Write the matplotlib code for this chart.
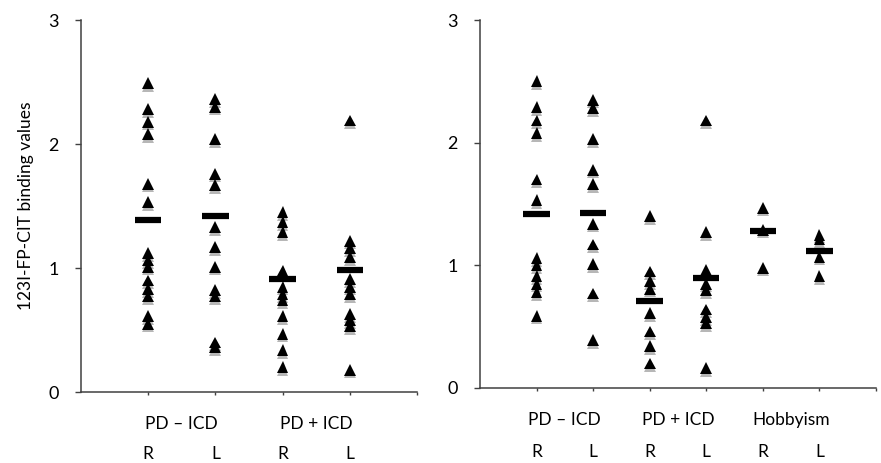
import matplotlib
matplotlib.use("Agg")
import matplotlib.pyplot as plt
import matplotlib.patheffects as pe

plt.rcParams['font.family'] = ['Lato', 'DejaVu Sans']

# left panel: PD - ICD vs PD + ICD, right / left side
left_neg_R = [2.49, 2.28, 2.18, 2.08, 1.68, 1.53, 1.12, 1.06, 1.01, 0.90, 0.83, 0.77, 0.61, 0.55]
left_neg_L = [2.36, 2.30, 2.04, 1.76, 1.67, 1.33, 1.17, 1.01, 0.82, 0.77, 0.40, 0.36]
left_pos_R = [1.45, 1.37, 1.29, 0.98, 0.85, 0.79, 0.74, 0.61, 0.47, 0.34, 0.20]
left_pos_L = [2.19, 1.22, 1.16, 1.09, 0.91, 0.85, 0.79, 0.63, 0.58, 0.53, 0.18]
left_means = [1.39, 1.42, 0.91, 0.98]

# right panel: adds the hobbyism group
right_neg_R = [2.50, 2.29, 2.18, 2.08, 1.70, 1.53, 1.06, 1.00, 0.91, 0.85, 0.78, 0.59]
right_neg_L = [2.35, 2.28, 2.03, 1.78, 1.66, 1.34, 1.17, 1.01, 0.77, 0.39]
right_pos_R = [1.40, 0.95, 0.87, 0.81, 0.61, 0.46, 0.34, 0.20]
right_pos_L = [2.18, 1.27, 0.96, 0.85, 0.80, 0.64, 0.58, 0.53, 0.16]
hobby_R = [1.47, 1.29, 0.98]
hobby_L = [1.25, 1.21, 1.07, 0.91]
right_means = [1.42, 1.43, 0.71, 0.90, 1.28, 1.12]

left_groups = ["PD \u2013 ICD", "PD + ICD"]
right_groups = ["PD \u2013 ICD", "PD + ICD", "Hobbyism"]
sides = ["R", "L"]

shadow = [pe.SimplePatchShadow(offset=(0, -2), shadow_rgbFace='#b0b0b0', alpha=0.9), pe.Normal()]
spine_col = '#404040'


def draw_panel(ax, columns, means, groups, side_offset, ylabel=None):
    n = len(columns)
    for i, vals in enumerate(columns):
        x = i + 1
        ax.plot([x] * len(vals), vals, linestyle='none', marker='^', markersize=8.5,
                color='black', markeredgewidth=0, path_effects=shadow, zorder=3, clip_on=False)
        ax.plot([x], [means[i]], linestyle='none', marker='_', markersize=19,
                markeredgewidth=4.5, color='black', path_effects=shadow, zorder=4)
    ax.set_xlim(0, n + 1)
    ax.set_ylim(0, 3)
    ax.set_yticks([0, 1, 2, 3])
    ax.set_xticks(range(1, n + 2))
    ax.set_xticklabels([])
    ax.tick_params(axis='y', direction='out', length=4, width=1, color=spine_col,
                   labelsize=13, pad=12)
    ax.tick_params(axis='x', direction='out', length=2.5, width=1, color=spine_col)
    for s in ['top', 'right']:
        ax.spines[s].set_visible(False)
    for s in ['left', 'bottom']:
        ax.spines[s].set_color(spine_col)
        ax.spines[s].set_linewidth(1.1)
    for g, name in enumerate(groups):
        ax.annotate(name, xy=(2 * g + 1.5, 0), xycoords=('data', 'axes fraction'),
                    xytext=(0, -32), textcoords='offset pixels', ha='center', va='center',
                    fontsize=12.5)
    for i in range(n):
        ax.annotate(sides[i % 2], xy=(i + 1, 0), xycoords=('data', 'axes fraction'),
                    xytext=(0, side_offset), textcoords='offset pixels', ha='center',
                    va='center', fontsize=12.5, annotation_clip=False)
    if ylabel:
        ax.set_ylabel(ylabel, fontsize=12.5, labelpad=10)


fig = plt.figure(figsize=(8.81, 4.63), dpi=100)
ax1 = fig.add_axes([0.0919, 0.1533, 0.3814, 0.8035])
ax2 = fig.add_axes([0.5448, 0.1620, 0.4495, 0.7948])

draw_panel(ax1, [left_neg_R, left_neg_L, left_pos_R, left_pos_L], left_means, left_groups,
           -62, ylabel="123I-FP-CIT binding values")
draw_panel(ax2, [right_neg_R, right_neg_L, right_pos_R, right_pos_L, hobby_R, hobby_L],
           right_means, right_groups, -64)

fig.savefig("out.png", dpi=100, facecolor='white')
